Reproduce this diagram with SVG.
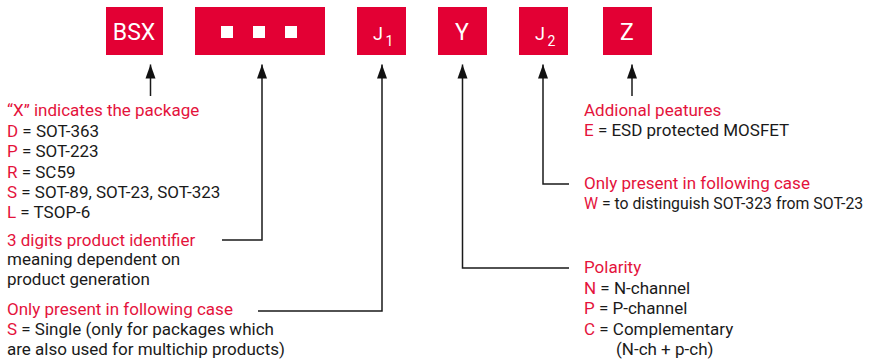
<svg xmlns="http://www.w3.org/2000/svg" width="872" height="362" viewBox="0 0 872 362">
<style>
.box{fill:#E30034}
.bt{fill:#fff;font-family:Roboto,"Liberation Sans",sans-serif;font-size:23px}
.t{font-family:Roboto,"Liberation Sans",sans-serif;font-size:17px;fill:#1a1a1a}
.r{fill:#E4133C}
.ln{stroke:#1a1a1a;stroke-width:1.5;fill:none}
</style>
<defs>
<marker id="ah" markerUnits="userSpaceOnUse" markerWidth="16" markerHeight="12" refX="14" refY="0" orient="auto" viewBox="0 -6 16 12" overflow="visible">
<path d="M0,-5 L14,0 L0,5 Z" fill="#111"/>
</marker>
</defs>
<rect width="872" height="362" fill="#fff"/>
<g id="n-bsx"><rect class="box" x="106" y="7" width="57" height="48"/><text class="bt" x="134" y="40" text-anchor="middle">BSX</text></g>
<g id="n-digits"><rect class="box" x="195" y="7" width="130" height="48"/><rect x="221" y="26" width="12" height="12" fill="#fff"/><rect x="253" y="26" width="12" height="12" fill="#fff"/><rect x="285" y="26" width="12" height="12" fill="#fff"/></g>
<g id="n-j1"><rect class="box" x="357" y="7" width="49" height="48"/><text class="bt" x="373" y="40" style="font-size:18px">J<tspan x="385.5" y="46" style="font-size:14px">1</tspan></text></g>
<g id="n-y"><rect class="box" x="438" y="7" width="49" height="48"/><text class="bt" x="462" y="40" text-anchor="middle">Y</text></g>
<g id="n-j2"><rect class="box" x="519" y="7" width="49" height="48"/><text class="bt" x="535" y="40" style="font-size:18px">J<tspan x="547.5" y="46" style="font-size:14px">2</tspan></text></g>
<g id="n-z"><rect class="box" x="603" y="7" width="49" height="48"/><text class="bt" x="627" y="40" text-anchor="middle">Z</text></g>
<g id="connectors">
<path class="ln" d="M150.5,96 V64.5" marker-end="url(#ah)"/>
<path class="ln" d="M222,240 H262 V64.5" marker-end="url(#ah)"/>
<path class="ln" d="M258,311 H382 V64.5" marker-end="url(#ah)"/>
<path class="ln" d="M569,268 H462.5 V64.5" marker-end="url(#ah)"/>
<path class="ln" d="M569,184 H543 V64.5" marker-end="url(#ah)"/>
<path class="ln" d="M632,96 V64.5" marker-end="url(#ah)"/>
</g>
<g id="n-package">
<text class="t"><tspan x="7" y="116" class="r">“X” indicates the package</tspan><tspan x="7" y="137"><tspan class="r">D</tspan> = SOT-363</tspan><tspan x="7" y="157"><tspan class="r">P</tspan> = SOT-223</tspan><tspan x="7" y="178"><tspan class="r">R</tspan> = SC59</tspan><tspan x="7" y="198"><tspan class="r">S</tspan> = SOT-89, SOT-23, SOT-323</tspan><tspan x="7" y="218"><tspan class="r">L</tspan> = TSOP-6</tspan></text>
</g>
<g id="n-identifier">
<text class="t"><tspan x="7" y="246" class="r">3 digits product identifier</tspan><tspan x="7" y="265">meaning dependent on</tspan><tspan x="7" y="285">product generation</tspan></text>
</g>
<g id="n-single">
<text class="t"><tspan x="7" y="315" class="r">Only present in following case</tspan><tspan x="7" y="335"><tspan class="r">S</tspan> = Single (only for packages which</tspan><tspan x="7" y="355">are also used for multichip products)</tspan></text>
</g>
<g id="n-features">
<text class="t"><tspan x="584" y="116" class="r">Addional peatures</tspan><tspan x="584" y="136"><tspan class="r">E</tspan> = ESD protected MOSFET</tspan></text>
</g>
<g id="n-w">
<text class="t"><tspan x="584" y="189" class="r">Only present in following case</tspan><tspan x="584" y="209" style="font-size:15.8px"><tspan class="r">W</tspan> = to distinguish SOT-323 from SOT-23</tspan></text>
</g>
<g id="n-polarity">
<text class="t"><tspan x="584" y="273" class="r">Polarity</tspan><tspan x="584" y="294"><tspan class="r">N</tspan> = N-channel</tspan><tspan x="584" y="314"><tspan class="r">P</tspan> = P-channel</tspan><tspan x="584" y="335"><tspan class="r">C</tspan> = Complementary</tspan><tspan x="616" y="355">(N-ch + p-ch)</tspan></text>
</g>
</svg>
